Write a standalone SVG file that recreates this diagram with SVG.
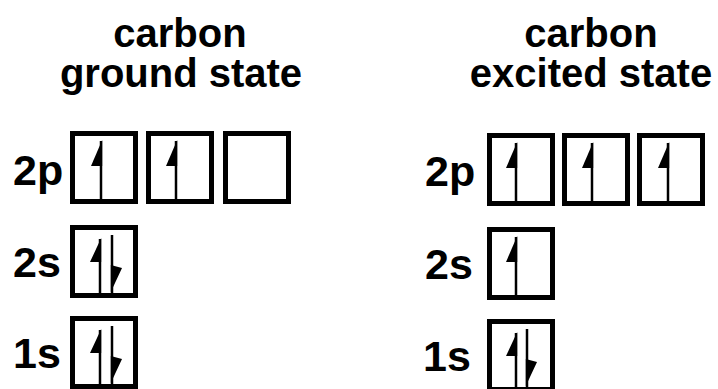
<svg xmlns="http://www.w3.org/2000/svg" width="718" height="389" viewBox="0 0 718 389">
<style>
text{font-family:"Liberation Sans",Arial,sans-serif;font-weight:bold;fill:#000}
.t{font-size:40px;text-anchor:middle}
.l{font-size:43px}
.box{fill:#fff;stroke:#000;stroke-width:5}
.ln{stroke:#000;stroke-width:2.5;fill:none}
.hd{fill:#000}
</style>
<defs>
<g id="up"><path class="ln" d="M0,10 V68"/><polygon class="hd" points="1.2,9 -10,35 1.2,35"/></g>
<g id="up2"><path class="ln" d="M0,14 V68"/><polygon class="hd" points="1.2,13 -10,37 1.2,37"/></g>
<g id="down"><path class="ln" d="M0,10 V68"/><polygon class="hd" points="-1.2,40 10,43 -1.2,67"/></g>
<rect id="b" class="box" x="2.5" y="2.5" width="63" height="68"/>
</defs>
<g id="title-ground">
<text class="t" x="180" y="47">carbon</text>
<text class="t" x="181" y="87">ground state</text>
</g>
<g id="title-excited">
<text class="t" x="591" y="47">carbon</text>
<text class="t" x="591" y="87">excited state</text>
</g>
<g id="ground-2p">
<text class="l" x="13" y="185">2p</text>
<use href="#b" x="70" y="131"/><use href="#up" x="101" y="131"/>
<use href="#b" x="146" y="131"/><use href="#up" x="176" y="131"/>
<use href="#b" x="223" y="131"/>
</g>
<g id="ground-2s">
<text class="l" x="13" y="277">2s</text>
<use href="#b" x="70" y="225"/><use href="#up2" x="100" y="225"/><use href="#down" x="112" y="225"/>
</g>
<g id="ground-1s">
<text class="l" x="13" y="368">1s</text>
<use href="#b" x="70" y="316"/><use href="#up2" x="100" y="316"/><use href="#down" x="112" y="316"/>
</g>
<g id="excited-2p">
<text class="l" x="425" y="186">2p</text>
<use href="#b" x="487" y="133"/><use href="#up" x="516" y="133"/>
<use href="#b" x="562" y="133"/><use href="#up" x="592" y="133"/>
<use href="#b" x="637" y="133"/><use href="#up" x="668" y="133"/>
</g>
<g id="excited-2s">
<text class="l" x="425" y="279">2s</text>
<use href="#b" x="487" y="227"/><use href="#up" x="516" y="227"/>
</g>
<g id="excited-1s">
<text class="l" x="423" y="371">1s</text>
<use href="#b" x="487" y="319"/><use href="#up2" x="516" y="319"/><use href="#down" x="527" y="319"/>
</g>
<g id="connectors"></g>
</svg>
